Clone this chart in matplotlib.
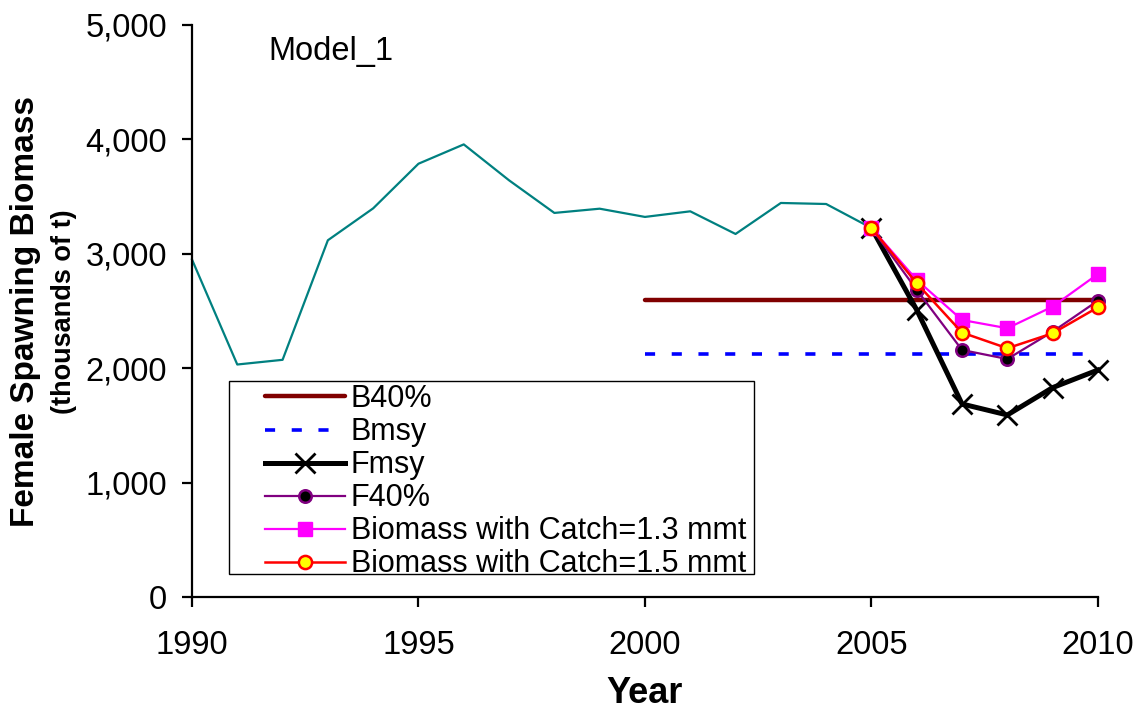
import matplotlib
matplotlib.use("Agg")
import matplotlib.pyplot as plt
from matplotlib.patches import Rectangle
from matplotlib.ticker import FuncFormatter

plt.rcParams['font.family'] = ['Liberation Sans', 'DejaVu Sans']

# model estimates of female spawning biomass (thousands of t)
hist_years = list(range(1990, 2006))
hist_biomass = [2950, 2032, 2073, 3118, 3397, 3787, 3956, 3642, 3357, 3394,
                3322, 3371, 3173, 3444, 3435, 3225]

# reference points
ref_years = [2000, 2010]
b40 = [2595, 2595]
bmsy = [2122, 2122]

# projections
proj_years = [2005, 2006, 2007, 2008, 2009, 2010]
fmsy = [3225, 2509, 1687, 1591, 1830, 1984]
f40 = [3225, 2684, 2159, 2080, 2319, 2590]
catch_13 = [3225, 2771, 2421, 2349, 2538, 2823]
catch_15 = [3225, 2742, 2311, 2174, 2305, 2532]

fig = plt.figure(figsize=(11.4, 7.09), dpi=100)
ax = fig.add_axes([0.1684, 0.158, 0.7947, 0.8068])

ax.plot(hist_years, hist_biomass, color='#008080', lw=1.6, clip_on=False)
ax.plot(ref_years, b40, color='#800000', lw=3.2, solid_capstyle='round', label='B40%')
ax.plot(ref_years, bmsy, color='#0000ff', lw=2.6, ls=(0, (2.8, 4.6)), label='Bmsy')
ax.plot(proj_years, fmsy, color='black', lw=3.6, marker='x', ms=14, mew=2,
        clip_on=False, label='Fmsy')
ax.plot(proj_years, f40, color='#800080', lw=1.6, marker='o', ms=9,
        mfc='black', mec='#800080', mew=1.8, clip_on=False, label='F40%')
ax.plot(proj_years, catch_13, color='#ff00ff', lw=1.6, marker='s', ms=9.5,
        mfc='#ff00ff', mec='#ff00ff', clip_on=False,
        label='Biomass with Catch=1.3 mmt')
ax.plot(proj_years, catch_15, color='#ff0000', lw=1.8, marker='o', ms=9.5,
        mfc='#ffff00', mec='#ff0000', mew=1.8, clip_on=False,
        label='Biomass with Catch=1.5 mmt')

ax.set_xlim(1990, 2010)
ax.set_ylim(0, 5000)
ax.set_xticks(range(1990, 2011, 5))
ax.set_yticks(range(0, 5001, 1000))
ax.yaxis.set_major_formatter(FuncFormatter(lambda v, p: f'{int(v):,}'))

for side in ('top', 'right'):
    ax.spines[side].set_visible(False)
for side in ('left', 'bottom'):
    ax.spines[side].set_linewidth(1.6)
ax.tick_params(axis='both', direction='out', length=7, width=1.6, labelsize=23.5)
ax.tick_params(axis='y', pad=11)
ax.tick_params(axis='x', pad=17)

ax.text(1991.68, 4694, 'Model_1', fontsize=23.5, ha='left', va='baseline')

# legend with a plain square frame drawn separately
leg = ax.legend(loc='upper left', bbox_to_anchor=(0.0806, 0.372), frameon=False,
                fontsize=22, borderpad=0, borderaxespad=0, handlelength=2.62,
                handletextpad=0.18, labelspacing=0.1)
ax.add_patch(Rectangle((0.0408, 0.0402), 0.5795, 0.3374, transform=ax.transAxes,
                       fill=False, ec='black', lw=1.0, zorder=1))

fig.text(645 / 1140, 6 / 709, 'Year', fontsize=26, fontweight='bold',
         ha='center', va='baseline')
fig.text(26 / 1140, 0.561, 'Female Spawning Biomass', fontsize=24,
         fontweight='bold', rotation=90, ha='center', va='center')
fig.text(64 / 1140, 0.561, '(thousands of t)', fontsize=19.5,
         fontweight='bold', rotation=90, ha='center', va='center')

fig.savefig('out.png', dpi=100)
